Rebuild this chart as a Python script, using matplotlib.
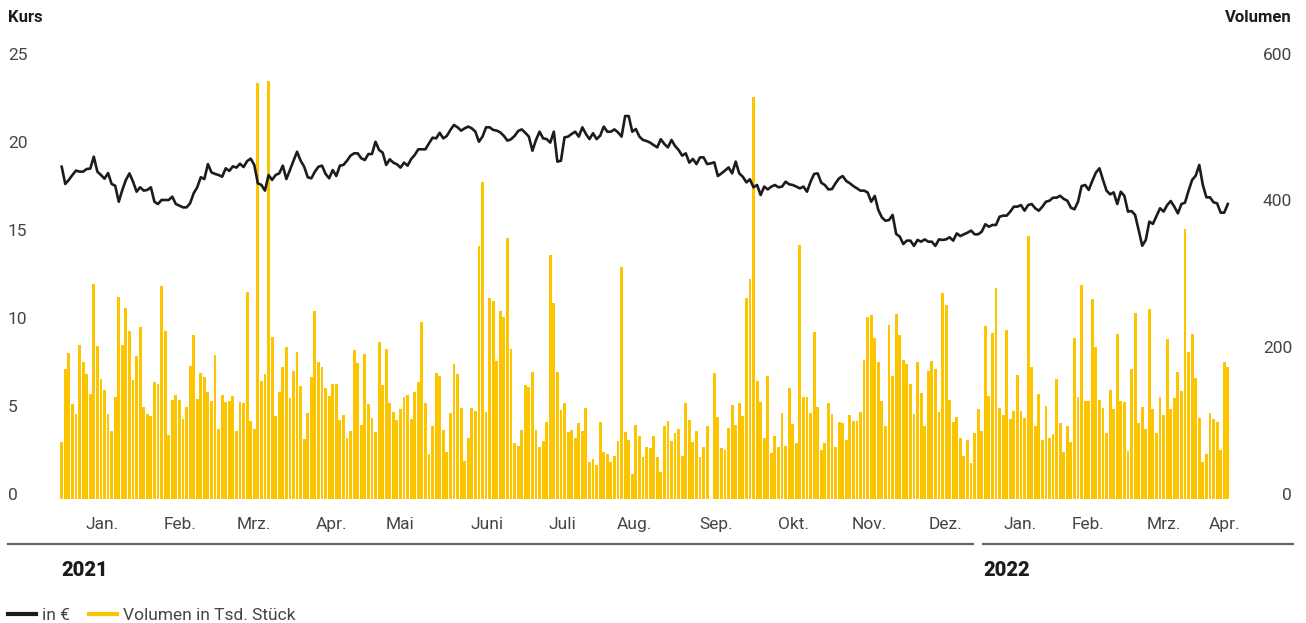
import numpy as np
import matplotlib
matplotlib.use("Agg")
import matplotlib.pyplot as plt
import matplotlib.transforms as mtransforms
from matplotlib.lines import Line2D

plt.rcParams['font.family'] = ['Roboto', 'DejaVu Sans']

# Schlusskurs in EUR, ein Wert je Handelstag (Jan. 2021 - Apr. 2022)
kurs = [
    18.88, 17.90, 18.13, 18.41, 18.66, 18.60, 18.60, 18.75, 18.77, 19.45,
    18.60, 18.41, 18.20, 18.52, 17.90, 17.80, 16.89, 17.56, 18.13, 18.50,
    18.03, 17.46, 17.71, 17.52, 17.56, 17.71, 16.89, 16.76, 16.99, 16.99,
    16.99, 17.18, 16.76, 16.67, 16.57, 16.57, 16.80, 17.37, 17.71, 18.28,
    18.18, 19.03, 18.56, 18.47, 18.41, 18.31, 18.79, 18.64, 18.90, 18.83,
    19.05, 18.86, 19.20, 19.34,
    18.98, 17.94, 17.84, 17.52, 18.41, 18.13, 18.41, 18.50, 18.94, 18.18,
    18.69, 19.22, 19.73, 19.22, 18.88, 18.28, 18.22, 18.60, 18.88, 18.94,
    18.47, 18.22, 18.69, 18.35, 18.94, 18.98, 19.22, 19.51, 19.64, 19.64,
    19.36, 19.26, 19.60, 19.60, 20.30, 19.83, 19.68, 18.98, 19.30, 19.11,
    19.02, 18.83, 19.11, 18.94, 19.32, 19.55, 19.87, 19.87, 19.87, 20.21,
    20.53, 20.49, 20.81,
    20.49, 20.63, 20.97, 21.25, 21.12, 20.93, 21.06, 21.16, 21.06, 20.87,
    20.30, 20.59, 21.12, 21.12, 20.97, 20.93, 20.83, 20.63, 20.36, 20.44,
    20.63, 20.91, 21.00, 20.81, 20.59, 19.79, 20.40, 20.87, 20.49, 20.45,
    20.25, 20.87, 19.17, 19.22, 20.55, 20.59, 20.74, 20.87, 20.59, 21.12,
    20.74, 20.45, 20.78, 20.45, 20.64, 21.16, 20.87, 20.87, 21.00, 20.83,
    20.59, 21.76, 21.76, 20.87, 21.02, 20.59, 20.40,
    20.34, 20.25, 20.11, 19.98, 20.44, 20.17, 19.98, 20.40, 20.06, 19.83,
    19.51, 19.64, 19.11, 19.32, 19.03, 19.41, 19.41, 19.03, 19.07, 19.13,
    18.35, 18.50, 18.66, 18.84, 18.50, 19.17, 18.50, 18.31, 17.99, 18.16,
    17.71, 17.84, 17.27, 17.75, 17.59, 17.75, 17.84, 17.71, 17.75, 18.03,
    17.88, 17.84, 17.75, 17.65, 17.75, 17.46, 18.03, 18.47, 18.50, 17.97,
    17.84, 17.59, 17.61, 17.94, 18.22,
    18.35, 18.07, 17.94, 17.78, 17.65, 17.52, 17.52, 17.42, 16.89, 17.22,
    16.42, 16.00, 15.81, 15.85, 16.14, 15.06, 14.91, 14.49, 14.68, 14.68,
    14.38, 14.72, 14.62, 14.75, 14.62, 14.62, 14.38, 14.75, 14.72, 14.75,
    14.87, 14.68, 15.09, 14.94, 15.04, 15.13, 15.25, 15.04, 15.04, 15.19,
    15.61, 15.47, 15.57, 15.57, 16.04, 16.10, 16.10, 16.33, 16.61, 16.61,
    16.70, 16.38, 16.70, 16.76, 16.52,
    16.38, 16.61, 16.89, 16.95, 17.12, 17.12, 17.23, 17.05, 16.95, 16.55,
    16.46, 16.89, 17.78, 17.84, 17.56, 18.07, 18.54, 18.79, 18.13, 17.52,
    17.31, 17.42, 16.76, 17.46, 17.22, 16.33, 16.36, 16.14, 15.28, 14.39,
    14.72, 15.76, 15.63, 16.08, 16.52, 16.33, 16.70, 16.93, 16.61, 16.23,
    16.76, 16.84, 17.52, 18.13, 18.37, 18.98, 17.84, 17.14, 17.14, 16.86,
    16.80, 16.27, 16.27, 16.76,
]

# Handelsvolumen in Tsd. Stueck
volumen = [
    78, 177, 199, 130, 116, 210, 187, 170, 143, 293,
    209, 164, 149, 116, 93, 139, 275, 210, 260, 229,
    162, 195, 235, 125, 116, 113, 160, 157, 290, 229,
    87, 135, 142, 135, 109, 125, 181, 224, 136, 172,
    166, 146, 134, 196, 95, 142, 132, 134, 140, 93,
    132, 131, 282, 106,
    95, 567, 161, 170, 570, 221, 113, 146, 180, 207,
    138, 175, 200, 154, 82, 117, 166, 256, 187, 180,
    151, 140, 157, 157, 108, 115, 83, 93, 203, 185,
    101, 198, 130, 110, 91, 214, 155, 205, 131, 119,
    108, 123, 139, 142, 109, 146, 160, 241, 131, 61,
    100, 172, 168, 94, 64,
    117, 184, 170, 124, 52, 83, 124, 120, 345, 432,
    119, 274, 270, 188, 256, 248, 356, 205, 76, 72,
    94, 155, 153, 173, 94, 71, 79, 105, 333, 267,
    173, 121, 131, 91, 94, 83, 104, 93, 124, 50,
    55, 46, 105, 64, 61, 50, 59, 79, 316, 91,
    80, 34, 101, 86, 57,
    71, 70, 86, 57, 37, 100, 106, 79, 90, 95,
    59, 131, 108, 78, 93, 57, 71, 100, 0, 172,
    112, 70, 67, 97, 128, 101, 131, 113, 274, 300,
    548, 161, 132, 83, 168, 63, 86, 71, 117, 72,
    151, 102, 76, 346, 139, 139, 117, 228, 125, 67,
    76, 131, 116, 71, 105,
    104, 80, 115, 106, 106, 119, 190, 248, 251, 220,
    187, 134, 100, 237, 168, 252, 224, 190, 184, 157,
    116, 187, 145, 100, 175, 188, 177, 119, 281, 265,
    135, 105, 112, 83, 59, 80, 49, 90, 123, 93,
    236, 140, 226, 288, 124, 115, 230, 109, 120, 169,
    120, 110, 359, 180,
    100, 143, 80, 127, 83, 89, 164, 104, 64, 100,
    78, 220, 139, 292, 134, 134, 273, 207, 135, 124,
    90, 149, 123, 225, 134, 132, 65, 177, 254, 104,
    125, 95, 259, 123, 90, 139, 115, 218, 123, 138,
    173, 147, 368, 200, 225, 165, 110, 50, 61, 117,
    109, 105, 67, 187, 180,
]

monate = ['Jan.', 'Feb.', 'Mrz.', 'Apr.', 'Mai', 'Juni', 'Juli', 'Aug.',
          'Sep.', 'Okt.', 'Nov.', 'Dez.', 'Jan.', 'Feb.', 'Mrz.', 'Apr.']
jahre = ['2021', '2022']

# Position der Monatsbeschriftung (Handelstag-Index)
monat_pos = [11.3, 33.2, 53.9, 75.8, 94.9, 119.3, 140.3, 160.5,
             183.5, 205.1, 226.4, 247.7, 268.7, 287.8, 309.1, 326.2]

gelb = '#FDC500'
schwarz = '#1c1c1c'
grau = '#454545'

W, H = 1306, 623
fig = plt.figure(figsize=(W / 100, H / 100), dpi=100)

# Achse: Nulllinie bei y=499 px, Oberkante bei y=59 px
ax = fig.add_axes([56 / W, 1 - 499 / H, (1236 - 56) / W, 440 / H])
ax2 = ax.twinx()

x = np.arange(len(volumen))
ax.bar(x, volumen, width=0.8, color=gelb, linewidth=0)
ax2.plot(np.arange(len(kurs)), kurs, color=schwarz, lw=1.9,
         solid_joinstyle='round')

ax.set_xlim(-1.6, 329.3)
ax.set_ylim(0, 600)
ax2.set_ylim(0, 25)

for a in (ax, ax2):
    for s in a.spines.values():
        s.set_visible(False)
    a.set_yticks([])
    a.tick_params(length=0)

ax.set_xticks(monat_pos)
ax.set_xticklabels(monate, fontsize=12.5, color=grau)
ax.tick_params(axis='x', length=0, pad=13)

# Achsbeschriftungen links und rechts
up = mtransforms.ScaledTranslation(0, 4 / 100, fig.dpi_scale_trans)
tl = mtransforms.blended_transform_factory(fig.transFigure, ax2.transData) + up
tr = mtransforms.blended_transform_factory(fig.transFigure, ax.transData) + up
for v in [0, 5, 10, 15, 20, 25]:
    fig.text(8 / W, v, str(v), transform=tl, ha='left', va='center',
             fontsize=12.5, color=grau)
for v in [0, 200, 400, 600]:
    fig.text(1292 / W, v, str(v), transform=tr, ha='right', va='center',
             fontsize=12.5, color=grau)

fig.text(8 / W, 1 - 17 / H, 'Kurs', ha='left', va='center', fontsize=12,
         fontweight='bold', color=schwarz)
fig.text(1292 / W, 1 - 17 / H, 'Volumen', ha='right', va='center',
         fontsize=12, fontweight='bold', color=schwarz)

# Jahreslinien
ly = 1 - 544 / H
fig.add_artist(Line2D([8 / W, 973 / W], [ly, ly], color='#666666', lw=1.6))
fig.add_artist(Line2D([983 / W, 1293 / W], [ly, ly], color='#666666', lw=1.6))
fig.text(61 / W, 1 - 571 / H, jahre[0], ha='left', va='center', fontsize=14.5,
         fontweight='black', color=schwarz)
fig.text(983 / W, 1 - 571 / H, jahre[1], ha='left', va='center', fontsize=14.5,
         fontweight='black', color=schwarz)

# Legende
handles = [Line2D([], [], color=schwarz, lw=3),
           Line2D([], [], color=gelb, lw=3)]
fig.legend(handles, ['in €', 'Volumen in Tsd. Stück'], loc='center left',
           bbox_to_anchor=(8 / W, 1 - 615 / H), ncol=2, frameon=False,
           fontsize=12.5, handlelength=1.6, handletextpad=0.35,
           columnspacing=1.1, borderpad=0, borderaxespad=0,
           labelcolor=grau)

fig.savefig('out.png', dpi=100)
